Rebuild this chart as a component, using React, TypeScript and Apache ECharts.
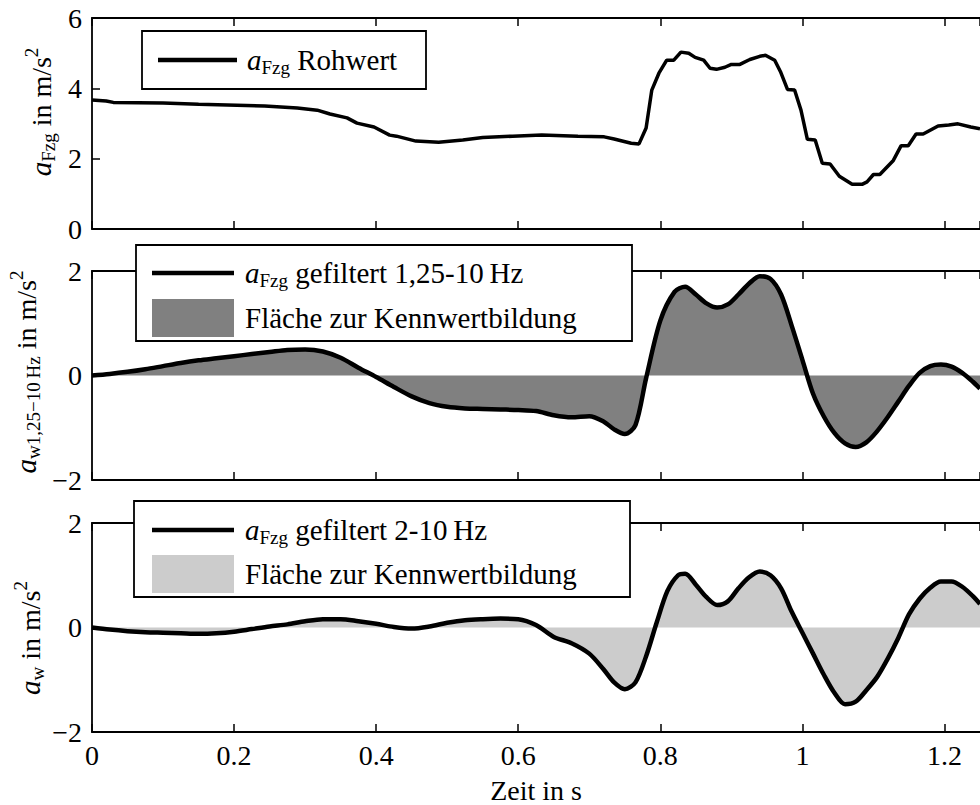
import React, { useEffect, useRef } from "react";
import * as echarts from "echarts";

const FONT = "'Liberation Serif', 'DejaVu Serif', serif";

// Time axis
const X_MIN = 0;
const X_MAX = 1.25;
const X_INTERVAL = 0.2;

// Panel 1: raw acceleration a_Fzg
const rawT = [0, 0.02, 0.03, 0.1, 0.15, 0.243, 0.289, 0.317, 0.335, 0.359, 0.373, 0.397, 0.419, 0.4286, 0.456, 0.488, 0.522, 0.55, 0.592, 0.633, 0.684, 0.721, 0.735, 0.759, 0.77, 0.78, 0.788, 0.798, 0.809, 0.819, 0.829, 0.84, 0.849, 0.861, 0.87, 0.879, 0.891, 0.9, 0.912, 0.926, 0.94, 0.948, 0.961, 0.969, 0.979, 0.989, 0.998, 1.007, 1.018, 1.028, 1.039, 1.052, 1.07, 1.084, 1.091, 1.1, 1.109, 1.128, 1.139, 1.149, 1.16, 1.17, 1.191, 1.206, 1.219, 1.237, 1.25];
const rawV = [3.67, 3.64, 3.6, 3.58, 3.55, 3.5, 3.44, 3.38, 3.27, 3.16, 3.01, 2.9, 2.67, 2.64, 2.5, 2.47, 2.53, 2.6, 2.64, 2.67, 2.64, 2.62, 2.56, 2.44, 2.42, 2.87, 3.95, 4.43, 4.8, 4.8, 5.03, 5.0, 4.88, 4.8, 4.57, 4.54, 4.6, 4.68, 4.68, 4.82, 4.91, 4.94, 4.8, 4.48, 3.97, 3.95, 3.38, 2.55, 2.53, 1.87, 1.85, 1.5, 1.27, 1.27, 1.34, 1.55, 1.55, 1.95, 2.37, 2.37, 2.7, 2.7, 2.93, 2.96, 2.99, 2.9, 2.85];

// Panel 2: filtered 1,25-10 Hz
const f125T = [0, 0.025, 0.05, 0.075, 0.1, 0.125, 0.15, 0.175, 0.2, 0.225, 0.25, 0.275, 0.3, 0.325, 0.35, 0.375, 0.4, 0.425, 0.45, 0.475, 0.5, 0.525, 0.55, 0.575, 0.6, 0.625, 0.65, 0.675, 0.7, 0.72, 0.735, 0.75, 0.765, 0.78, 0.8, 0.82, 0.835, 0.85, 0.865, 0.88, 0.895, 0.91, 0.925, 0.94, 0.955, 0.97, 0.985, 1.0, 1.015, 1.03, 1.045, 1.06, 1.075, 1.09, 1.105, 1.12, 1.135, 1.15, 1.165, 1.18, 1.195, 1.21, 1.225, 1.24, 1.25];
const f125V = [0, 0.03, 0.07, 0.12, 0.18, 0.24, 0.29, 0.33, 0.37, 0.41, 0.45, 0.49, 0.5, 0.46, 0.34, 0.15, -0.03, -0.22, -0.4, -0.53, -0.6, -0.63, -0.64, -0.65, -0.66, -0.68, -0.76, -0.8, -0.78, -0.88, -1.03, -1.12, -0.95, -0.05, 1.05, 1.6, 1.7, 1.55, 1.38, 1.3, 1.36, 1.55, 1.76, 1.9, 1.85, 1.55, 0.95, 0.3, -0.35, -0.78, -1.1, -1.3, -1.37, -1.28, -1.07, -0.8, -0.5, -0.2, 0.05, 0.18, 0.21, 0.17, 0.05, -0.12, -0.25];

// Panel 3: filtered 2-10 Hz
const f2T = [0, 0.025, 0.05, 0.075, 0.1, 0.125, 0.15, 0.175, 0.2, 0.225, 0.25, 0.275, 0.3, 0.325, 0.35, 0.375, 0.4, 0.425, 0.45, 0.475, 0.5, 0.525, 0.55, 0.575, 0.6, 0.625, 0.65, 0.675, 0.7, 0.72, 0.735, 0.75, 0.765, 0.78, 0.795, 0.81, 0.825, 0.835, 0.85, 0.865, 0.88, 0.895, 0.91, 0.925, 0.94, 0.955, 0.97, 0.985, 1.0, 1.015, 1.03, 1.045, 1.06, 1.075, 1.09, 1.105, 1.12, 1.135, 1.15, 1.165, 1.18, 1.195, 1.21, 1.225, 1.24, 1.25];
const f2V = [0, -0.04, -0.07, -0.09, -0.1, -0.11, -0.12, -0.11, -0.08, -0.03, 0.02, 0.06, 0.12, 0.16, 0.16, 0.12, 0.07, 0.01, -0.02, 0.02, 0.09, 0.14, 0.16, 0.17, 0.16, 0.05, -0.18, -0.3, -0.5, -0.8, -1.05, -1.18, -1.05, -0.55, 0.1, 0.7, 1.0, 1.03, 0.82, 0.58, 0.43, 0.5, 0.75, 0.96, 1.07, 1.0, 0.75, 0.3, -0.1, -0.5, -0.9, -1.25, -1.47, -1.42, -1.2, -0.95, -0.6, -0.2, 0.25, 0.55, 0.76, 0.88, 0.88, 0.78, 0.6, 0.45];

const zip = (t: number[], v: number[]) => t.map((x, i) => [x, v[i]]);

const FS = 28;
const RICH: any = {
  i: { fontFamily: FONT, fontStyle: "italic", fontSize: FS + 1, fill: "#000", color: "#000" },
  sub: { fontFamily: FONT, fontSize: 19, padding: [15, 0, 0, 0], fill: "#000", color: "#000" },
  sup: { fontFamily: FONT, fontSize: 19, padding: [0, 0, 19, 0], fill: "#000", color: "#000" },
  n: { fontFamily: FONT, fontSize: FS, fill: "#000", color: "#000" },
  l: { fontFamily: FONT, fontSize: FS + 1, fill: "#000", color: "#000" },
};

const GRIDS = [
  { top: 18, height: 211 },
  { top: 271, height: 209 },
  { top: 523, height: 209 },
];

export default function App() {
  const ref = useRef<HTMLDivElement>(null);
  useEffect(() => {
    if (!ref.current) return;
    const chart = echarts.init(ref.current, null, { renderer: "svg" });
    const axisLine = { show: true, onZero: false, lineStyle: { color: "#000", width: 1.8 } };
    const tick = { show: true, inside: true, length: 8, lineStyle: { color: "#000", width: 1.5 } };

    const xAxes: any[] = [];
    GRIDS.forEach((_, gi) => {
      xAxes.push({
        type: "value",
        gridIndex: gi,
        position: "bottom",
        min: X_MIN,
        max: X_MAX,
        interval: X_INTERVAL,
        axisLine,
        axisTick: tick,
        splitLine: { show: false },
        axisLabel: {
          show: gi === 2,
          showMaxLabel: false,
          fontFamily: FONT,
          fontSize: FS,
          color: "#000",
          margin: 9,
        },
        name: gi === 2 ? "Zeit in s" : "",
        nameLocation: "middle",
        nameGap: 44,
        nameTextStyle: { fontFamily: FONT, fontSize: FS, color: "#000" },
      });
      xAxes.push({
        type: "value",
        gridIndex: gi,
        position: "top",
        min: X_MIN,
        max: X_MAX,
        interval: X_INTERVAL,
        axisLine,
        axisTick: tick,
        splitLine: { show: false },
        axisLabel: { show: false },
      });
    });

    const yRanges = [
      [0, 6],
      [-2, 2],
      [-2, 2],
    ];
    const yAxes = yRanges.map((r, gi) => ({
      type: "value",
      gridIndex: gi,
      min: r[0],
      max: r[1],
      interval: 2,
      axisLine,
      axisTick: tick,
      splitLine: { show: false },
      axisLabel: {
        fontFamily: FONT,
        fontSize: FS,
        color: "#000",
        margin: 10,
        formatter: (v: number) => (v < 0 ? "\u2212" + Math.abs(v) : String(v)),
      },
    }));

    const txt = (x: number, y: number, text: string, rot = 0, align = "left") => ({
      type: "text",
      x,
      y,
      rotation: rot,
      z: 200,
      style: {
        text,
        rich: RICH,
        fontFamily: FONT,
        fontSize: FS,
        fill: "#000",
        align,
        textAlign: align,
        verticalAlign: "middle",
        textVerticalAlign: "middle",
      },
    });

    const legendBox = (x: number, y: number, w: number, h: number) => ({
      type: "rect",
      z: 150,
      shape: { x, y, width: w, height: h },
      style: { fill: "#fff", stroke: "#000", lineWidth: 1.8 },
    });
    const legendLine = (x1: number, x2: number, y: number) => ({
      type: "line",
      z: 200,
      shape: { x1, y1: y, x2, y2: y },
      style: { stroke: "#000", lineWidth: 4.5 },
    });
    const legendPatch = (x: number, y: number, w: number, h: number, c: string) => ({
      type: "rect",
      z: 200,
      shape: { x, y, width: w, height: h },
      style: { fill: c },
    });

    const graphic: any[] = [
      // y-axis titles
      txt(41, 112, "{i|a}{sub|Fzg}{n| in m/s}{sup|2}", Math.PI / 2, "center"),
      txt(26, 372, "{i|a}{sub|w1,25\u221210\u2009Hz}{n| in m/s}{sup|2}", Math.PI / 2, "center"),
      txt(30, 638, "{i|a}{sub|w}{n| in m/s}{sup|2}", Math.PI / 2, "center"),
      // legend 1
      legendBox(142, 31, 284, 58),
      legendLine(158, 237, 60),
      txt(247, 60, "{i|a}{sub|Fzg}{l| Rohwert}"),
      // legend 2
      legendBox(136, 245, 496, 96),
      legendLine(152, 234, 273),
      legendPatch(152, 299, 82, 38, "#808080"),
      txt(245, 273, "{i|a}{sub|Fzg}{l| gefiltert 1,25-10\u2009Hz}"),
      txt(245, 318, "{l|Fl\u00e4che zur Kennwertbildung}"),
      // legend 3
      legendBox(134, 501, 496, 96),
      legendLine(152, 234, 530),
      legendPatch(152, 555, 82, 38, "#cccccc"),
      txt(245, 530, "{i|a}{sub|Fzg}{l| gefiltert 2-10\u2009Hz}"),
      txt(245, 574, "{l|Fl\u00e4che zur Kennwertbildung}"),
    ];

    chart.setOption({
      animation: false,
      backgroundColor: "#fff",
      grid: GRIDS.map((g) => ({ left: 92, right: -9, top: g.top, height: g.height })),
      xAxis: xAxes,
      yAxis: yAxes,
      graphic,
      series: [
        {
          type: "line",
          xAxisIndex: 0,
          yAxisIndex: 0,
          data: zip(rawT, rawV),
          showSymbol: false,
          symbol: "none",
          lineStyle: { color: "#000", width: 3.5 },
        },
        {
          type: "line",
          xAxisIndex: 2,
          yAxisIndex: 1,
          data: zip(f125T, f125V),
          smooth: 0.3,
          showSymbol: false,
          symbol: "none",
          lineStyle: { color: "#000", width: 4.5 },
          areaStyle: { color: "#808080", opacity: 1 },
        },
        {
          type: "line",
          xAxisIndex: 4,
          yAxisIndex: 2,
          data: zip(f2T, f2V),
          smooth: 0.3,
          showSymbol: false,
          symbol: "none",
          lineStyle: { color: "#000", width: 4.5 },
          areaStyle: { color: "#cccccc", opacity: 1 },
        },
      ],
    });
    return () => chart.dispose();
  }, []);
  return <div ref={ref} style={{ width: 980, height: 805, position: "absolute", left: 0, top: 0 }} />;
}
